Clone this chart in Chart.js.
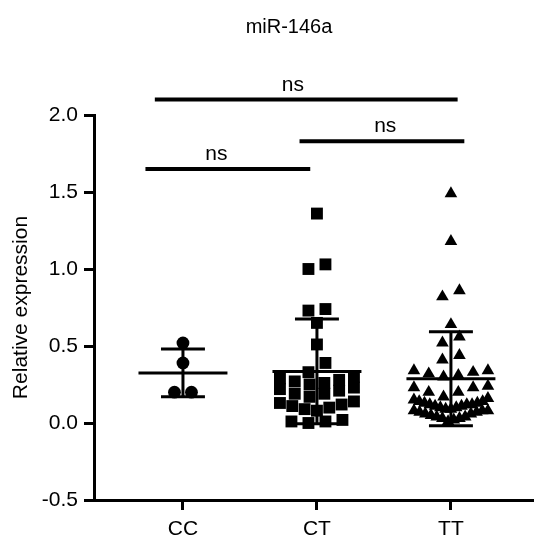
<!DOCTYPE html>
<html>
<head>
<meta charset="utf-8">
<title>miR-146a</title>
<script src="https://cdn.jsdelivr.net/npm/chart.js@4.4.1/dist/chart.umd.min.js"></script>
<style>
  html, body { margin: 0; padding: 0; background: #fff; overflow: hidden; }
  canvas { display: block; }
</style>
</head>
<body>
<canvas id="expr-chart" width="534" height="535"></canvas>
<script>
// miR-146a relative expression per genotype: scatter dot plot with mean ± SD

const genotypes = ['CC', 'CT', 'TT'];

const ccValues = [0.52, 0.39, 0.20, 0.20];
const ctValues = [
  1.36, 1.03, 1.00, 0.74, 0.73, 0.65, 0.51, 0.39, 0.33,
  0.30, 0.29, 0.28, 0.27, 0.26, 0.25,
  0.23, 0.22, 0.21, 0.19, 0.19, 0.17,
  0.14, 0.13, 0.12, 0.11, 0.10, 0.09, 0.08,
  0.02, 0.01, 0.01, 0.00
];
const ttValues = [
  1.49, 1.18, 0.86, 0.82, 0.64, 0.56, 0.52, 0.44, 0.41,
  0.34, 0.34, 0.33, 0.32, 0.31, 0.30,
  0.24, 0.23, 0.23, 0.20, 0.20, 0.17, 0.16,
  0.15, 0.14, 0.14, 0.13, 0.13, 0.12, 0.12, 0.12, 0.11, 0.11, 0.10, 0.10,
  0.09, 0.09, 0.08, 0.08, 0.08, 0.07, 0.07, 0.06, 0.06, 0.05,
  0.04, 0.04, 0.03, 0.03, 0.02, 0.01
];

const groupMeans = [0.325, 0.335, 0.287];
const groupSDs = [0.155, 0.34, 0.305];

const yTickValues = [-0.5, 0.0, 0.5, 1.0, 1.5, 2.0];

// pairwise comparisons (group indexes), their result and bracket height
const comparisons = [[0, 2], [1, 2], [0, 1]];
const comparisonLabels = ['ns', 'ns', 'ns'];
const comparisonLevels = [2.10, 1.83, 1.65];

// ---- drawing setup ----
const FONT = "'Liberation Sans', Arial, sans-serif";
const BRACKET_X = [[0.79, 3.05], [1.87, 3.10], [0.72, 1.95]];
const BRACKET_LABEL_X = [1.82, 2.51, 1.25];
const MEAN_HALF = 0.332;
const CAP_HALF = 0.164;
const ROW_PX = 12;       // values closer than this share a row
const MAX_GAP_PX = 17;   // spacing between symbols in a row
const MAX_SPREAD_PX = 74;

const groupValues = [ccValues, ctValues, ttValues];
const symbols = [
  { style: 'circle', radius: 6.4 },
  { style: 'rect', radius: 8.4 },
  { style: 'triangle', radius: 7.3 }
];

// rows of nearby values, lowest value in the middle of its row
function swarmOffsets(values, pxX, pxY) {
  const order = values.map((v, i) => i).sort((a, b) => values[a] - values[b]);
  const rows = [];
  order.forEach(i => {
    const row = rows[rows.length - 1];
    if (row && (values[i] - values[row[0]]) * pxY <= ROW_PX) row.push(i);
    else rows.push([i]);
  });
  const offsets = [];
  rows.forEach(row => {
    const n = row.length;
    const gap = n > 1 ? Math.min(MAX_GAP_PX, MAX_SPREAD_PX / (n - 1)) : 0;
    const slots = row.map((_, k) => k - (n - 1) / 2)
      .sort((a, b) => Math.abs(a) - Math.abs(b) || a - b);
    row.forEach((i, k) => { offsets[i] = slots[k] * gap / pxX; });
  });
  return offsets;
}

function errorBarPoints() {
  const pts = [];
  genotypes.forEach((g, i) => {
    const c = i + 1, m = groupMeans[i], sd = groupSDs[i];
    pts.push({ x: c - MEAN_HALF, y: m }, { x: c + MEAN_HALF, y: m }, { x: c, y: null });
    pts.push({ x: c - CAP_HALF, y: m + sd }, { x: c + CAP_HALF, y: m + sd }, { x: c, y: null });
    pts.push({ x: c - CAP_HALF, y: m - sd }, { x: c + CAP_HALF, y: m - sd }, { x: c, y: null });
    pts.push({ x: c, y: m - sd }, { x: c, y: m + sd }, { x: c, y: null });
  });
  return pts;
}

function bracketPoints() {
  const pts = [];
  comparisons.forEach((pair, i) => {
    const [x0, x1] = BRACKET_X[i];
    pts.push({ x: x0, y: comparisonLevels[i] }, { x: x1, y: comparisonLevels[i] }, { x: x1, y: null });
  });
  return pts;
}

const labelsPlugin = {
  id: 'labels',
  afterDraw(chart) {
    const { ctx, scales: { x, y } } = chart;
    ctx.save();
    ctx.fillStyle = '#000';
    ctx.textAlign = 'center';
    ctx.textBaseline = 'middle';
    ctx.font = `20px ${FONT}`;
    ctx.fillText('miR-146a', 289, 27);
    ctx.textBaseline = 'alphabetic';
    ctx.font = `21px ${FONT}`;
    comparisons.forEach((pair, i) => {
      ctx.fillText(comparisonLabels[i],
        x.getPixelForValue(BRACKET_LABEL_X[i]),
        y.getPixelForValue(comparisonLevels[i]) - 9);
    });
    ctx.restore();
  }
};

const dotSets = genotypes.map((g, i) => ({
  label: g,
  data: groupValues[i].map(v => ({ x: i + 1, y: v })),
  pointStyle: symbols[i].style,
  pointRadius: symbols[i].radius,
  pointHoverRadius: symbols[i].radius,
  backgroundColor: '#000',
  borderWidth: 0,
  order: 1
}));

const axisFont = { family: FONT, size: 21 };

const chart = new Chart(document.getElementById('expr-chart'), {
  type: 'scatter',
  data: {
    datasets: [
      ...dotSets,
      {
        type: 'line', label: 'mean ± SD', data: errorBarPoints(),
        borderColor: '#000', borderWidth: 3, borderCapStyle: 'butt',
        pointRadius: 0, fill: false, tension: 0, order: 0
      },
      {
        type: 'line', label: 'comparisons', data: bracketPoints(),
        borderColor: '#000', borderWidth: 4, borderCapStyle: 'butt',
        pointRadius: 0, fill: false, tension: 0, clip: false, order: 0
      }
    ]
  },
  options: {
    responsive: false,
    animation: false,
    layout: { autoPadding: false, padding: { top: 115, left: 0, right: 0, bottom: 0 } },
    plugins: { legend: { display: false }, tooltip: { enabled: false } },
    scales: {
      x: {
        type: 'linear', min: 0.336, max: 3.62,
        afterBuildTicks: s => { s.ticks = genotypes.map((g, i) => ({ value: i + 1 })); },
        afterFit: s => { s.height = 35; s.paddingLeft = 0; s.paddingRight = 0; },
        grid: { display: true, drawOnChartArea: false, drawTicks: true, tickLength: 10, tickWidth: 3, tickColor: '#000', lineWidth: 3 },
        border: { display: true, width: 3, color: '#000' },
        ticks: { autoSkip: false, maxRotation: 0, padding: 7, color: '#000', font: axisFont,
          callback: v => genotypes[v - 1] ?? '' }
      },
      y: {
        type: 'linear', min: yTickValues[0], max: yTickValues[yTickValues.length - 1],
        afterBuildTicks: s => { s.ticks = yTickValues.map(v => ({ value: v })); },
        afterFit: s => { s.width = 94; s.paddingTop = 0; s.paddingBottom = 0; },
        grid: { display: true, drawOnChartArea: false, drawTicks: true, tickLength: 10, tickWidth: 3, tickColor: '#000', lineWidth: 3 },
        border: { display: true, width: 3, color: '#000' },
        ticks: { padding: 6, color: '#000', font: axisFont, callback: v => v.toFixed(1) },
        title: { display: true, text: 'Relative expression', color: '#000',
          font: { family: FONT, size: 21 }, padding: { top: 9, bottom: 0 } }
      }
    }
  },
  plugins: [labelsPlugin]
});

// spread the dots sideways once the scales know their pixel sizes
const pxX = Math.abs(chart.scales.x.getPixelForValue(1) - chart.scales.x.getPixelForValue(0));
const pxY = Math.abs(chart.scales.y.getPixelForValue(1) - chart.scales.y.getPixelForValue(0));
groupValues.forEach((vals, i) => {
  const offs = swarmOffsets(vals, pxX, pxY);
  chart.data.datasets[i].data = vals.map((v, k) => ({ x: i + 1 + offs[k], y: v }));
});
chart.update('none');
</script>
</body>
</html>
